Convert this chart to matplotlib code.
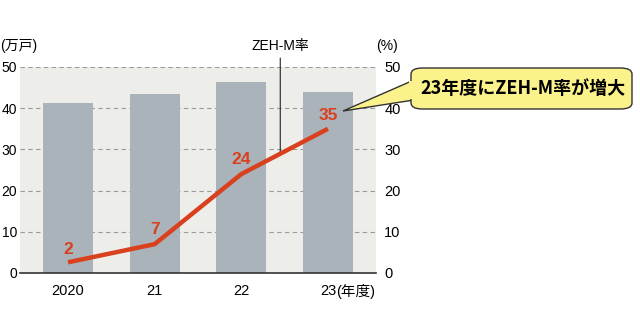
import matplotlib.pyplot as plt
from matplotlib.patches import FancyBboxPatch, Polygon

plt.rcParams["font.family"] = ["Liberation Sans Narrow", "Liberation Sans", "Noto Sans CJK JP", "DejaVu Sans"]

# データ
years = ["2020", "21", "22", "23"]
units = [41.3, 43.4, 46.4, 43.9]        # 万戸
zeh_rate = [2.6, 7.0, 24.0, 35.0]       # %
zeh_labels = ["2", "7", "24", "35"]
yticks = [0, 10, 20, 30, 40, 50]

BAR_COLOR = "#aab2ba"
LINE_COLOR = "#d9401e"
BG_COLOR = "#ededea"

fig = plt.figure(figsize=(6.4, 3.36), dpi=100)
ax = fig.add_axes([20 / 640, 1 - 273 / 336, 356 / 640, 206 / 336])
ax2 = ax.twinx()

x = range(len(years))
ax.set_facecolor(BG_COLOR)
ax.bar(x, units, width=0.58, color=BAR_COLOR, zorder=2)
ax.set_xlim(-0.554, 3.555)
ax.set_ylim(0, 50)
for v in yticks[1:]:
    ax.axhline(v, color="#9a9a9a", lw=0.8, ls=(0, (4, 3)), zorder=1)

ax.set_yticks(yticks)
ax.set_xticks(list(x))
ax.set_xticklabels(years)
ax.tick_params(axis="y", length=0, pad=2, labelsize=10)
ax.tick_params(axis="x", length=0, pad=8, labelsize=10.5)
# 年度の単位
ax.annotate("(年度)", xy=(3, 0), xycoords=("data", "axes fraction"),
            xytext=(6, -8), textcoords="offset points", ha="left", va="top",
            fontsize=10.5, annotation_clip=False)
for s in ["top", "right", "left"]:
    ax.spines[s].set_visible(False)
ax.spines["bottom"].set_color("#333333")
ax.spines["bottom"].set_linewidth(1.2)

ax2.set_ylim(0, 50)
ax2.set_yticks(yticks)
ax2.tick_params(axis="y", length=0, pad=6, labelsize=10.5)
for s in ["top", "right", "left", "bottom"]:
    ax2.spines[s].set_visible(False)

ax2.plot(x, zeh_rate, color=LINE_COLOR, lw=3.2, solid_capstyle="butt", zorder=5)
offsets = [1.3, 1.7, 1.7, 1.4]
for i, (v, lab) in enumerate(zip(zeh_rate, zeh_labels)):
    ax2.text(i, v + offsets[i], lab, color=LINE_COLOR,
             fontsize=12.5, fontweight="bold", ha="center", va="bottom",
             family=["Liberation Sans", "DejaVu Sans"])

# 単位
fig.text(0 / 640, 1 - 46 / 336, "(万戸)", fontsize=10, va="center", ha="left")
fig.text(376 / 640, 1 - 46 / 336, "(%)", fontsize=10, va="center", ha="left")

# ZEH-M率 の引き出し線
ax2.annotate("ZEH-M率", xy=(2.45, 28.6), xytext=(2.45, 53.5),
             textcoords="data", ha="center", va="bottom", fontsize=10,
             arrowprops=dict(arrowstyle="-", color="#222222", lw=0.8,
                             shrinkA=2, shrinkB=0),
             annotation_clip=False)

# 吹き出し
box = FancyBboxPatch((411 / 640, 1 - 109 / 336), 221 / 640, 41 / 336,
                     boxstyle="round,pad=0,rounding_size=0.018",
                     transform=fig.transFigure, facecolor="#fbf28c",
                     edgecolor="#333333", lw=1.0, zorder=10)
fig.add_artist(box)
tail = Polygon([(343 / 640, 1 - 111 / 336), (414 / 640, 1 - 80 / 336),
                (414 / 640, 1 - 100 / 336)], closed=True,
               transform=fig.transFigure, facecolor="#fbf28c",
               edgecolor="#333333", lw=1.0, zorder=9)
fig.add_artist(tail)
fig.add_artist(Polygon([(409 / 640, 1 - 81 / 336), (416 / 640, 1 - 81 / 336),
                        (416 / 640, 1 - 99 / 336), (409 / 640, 1 - 99 / 336)],
                       closed=True, transform=fig.transFigure,
                       facecolor="#fbf28c", edgecolor="none", zorder=11))
fig.text(523 / 640, 1 - 88.5 / 336, "23年度にZEH-M率が増大", fontsize=13,
         fontweight="bold", ha="center", va="center", zorder=12,
         family=["Noto Sans CJK JP", "DejaVu Sans"])

fig.savefig("out.png", dpi=100)
